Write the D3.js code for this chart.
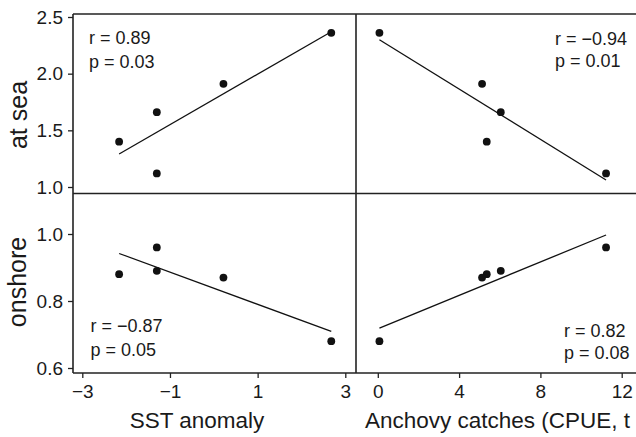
<!DOCTYPE html>
<meta charset="utf-8">
<style>
    body {
        margin: 0;
        overflow: hidden;
        background: #fff;
    }
    svg {
        font-family: "Liberation Sans", Arial, Helvetica, sans-serif;
        display: block;
    }
    .axis path {
        display: none;
    }
    .axis line {
        stroke: #222;
        stroke-width: 1.3;
    }
    .axis text {
        font-size: 19px;
        fill: #1a1a1a;
    }
    .frame line {
        stroke: #222;
        stroke-width: 1.6;
    }
    .fit {
        stroke: #111;
        stroke-width: 1.3;
        fill: none;
    }
    .dot {
        fill: #111;
    }
    .stat {
        font-size: 18px;
        fill: #1a1a1a;
    }
    .title {
        fill: #1a1a1a;
    }
</style>
<body>
<script src="https://cdn.jsdelivr.net/npm/d3@7"></script>
<script>
    // one entry per year (same order in every array)
    const sstAnomaly = [-2.16, -1.30, -1.30, 0.22, 2.68];
    const cpue = [5.36, 6.05, 11.23, 5.13, 0.08];
    const atSea = [1.40, 1.66, 1.12, 1.91, 2.36];
    const onshore = [0.88, 0.89, 0.96, 0.87, 0.68];

    const sstTicks = [-3, -1, 1, 3];
    const cpueTicks = [0, 4, 8, 12];
    const atSeaTicks = [1.0, 1.5, 2.0, 2.5];
    const onshoreTicks = [0.6, 0.8, 1.0];

    const rLabels = ["r = 0.89", "r = \u22120.94", "r = \u22120.87", "r = 0.82"];
    const pLabels = ["p = 0.03", "p = 0.01", "p = 0.05", "p = 0.08"];

    const width = 636, height = 437;

    // panel frame
    const fLeft = 73, fMid = 356, fRight = 700;
    const fTop = 14, fHmid = 193.5, fBottom = 373;

    const svg = d3.select('body').append('svg')
        .attr('width', width)
        .attr('height', height);

    const xSst = d3.scaleLinear().domain([-3, 3]).range([82.3, 345.3]);
    const xCpue = d3.scaleLinear().domain([0, 12]).range([377.8, 621.7]);
    const ySea = d3.scaleLinear().domain([1.0, 2.5]).range([187, 17]);
    const yShore = d3.scaleLinear().domain([0.6, 1.0]).range([368, 234]);

    // panels: x values, y values, scales, stat label position
    const panels = [
        {xs: sstAnomaly, ys: atSea, x: xSst, y: ySea, lx: 89, ly: [43.5, 67.5]},
        {xs: cpue, ys: atSea, x: xCpue, y: ySea, lx: 555, ly: [45, 67]},
        {xs: sstAnomaly, ys: onshore, x: xSst, y: yShore, lx: 90.5, ly: [332, 356]},
        {xs: cpue, ys: onshore, x: xCpue, y: yShore, lx: 564, ly: [337, 358.5]}
    ];

    // frame lines
    const frame = svg.append('g').attr('class', 'frame');
    [[fLeft, fTop, fRight, fTop], [fLeft, fHmid, fRight, fHmid], [fLeft, fBottom, fRight, fBottom],
     [fLeft, fTop, fLeft, fBottom], [fMid, fTop, fMid, fBottom]].forEach(l => {
        frame.append('line')
            .attr('x1', l[0]).attr('y1', l[1])
            .attr('x2', l[2]).attr('y2', l[3]);
    });

    // y axes
    svg.append('g')
        .attr('class', 'axis')
        .attr('transform', `translate(${fLeft},0)`)
        .call(d3.axisLeft(ySea).tickValues(atSeaTicks).tickSize(5).tickPadding(5)
            .tickFormat(d3.format('.1f')));

    svg.append('g')
        .attr('class', 'axis')
        .attr('transform', `translate(${fLeft},0)`)
        .call(d3.axisLeft(yShore).tickValues(onshoreTicks).tickSize(5).tickPadding(5)
            .tickFormat(d3.format('.1f')));

    // x axes
    const minus = d => d3.format('d')(d).replace('-', '\u2212');
    svg.append('g')
        .attr('class', 'axis')
        .attr('transform', `translate(0,${fBottom})`)
        .call(d3.axisBottom(xSst).tickValues(sstTicks).tickSize(5).tickPadding(7).tickFormat(minus));

    svg.append('g')
        .attr('class', 'axis')
        .attr('transform', `translate(0,${fBottom})`)
        .call(d3.axisBottom(xCpue).tickValues(cpueTicks).tickSize(5).tickPadding(7).tickFormat(minus));

    // least squares fit, drawn over the range of the data
    function fit(xs, ys) {
        const mx = d3.mean(xs), my = d3.mean(ys);
        const sxy = d3.sum(xs, (v, i) => (v - mx) * (ys[i] - my));
        const sxx = d3.sum(xs, v => (v - mx) * (v - mx));
        const b = sxy / sxx;
        const [x0, x1] = d3.extent(xs);
        return [[x0, my + b * (x0 - mx)], [x1, my + b * (x1 - mx)]];
    }

    panels.forEach((p, k) => {
        const g = svg.append('g');
        const seg = fit(p.xs, p.ys);

        g.append('path')
            .attr('class', 'fit')
            .attr('d', d3.line().x(d => p.x(d[0])).y(d => p.y(d[1]))(seg));

        g.selectAll('.dot')
            .data(p.xs.map((v, i) => [v, p.ys[i]]))
            .enter().append('circle')
            .attr('class', 'dot')
            .attr('r', 3.9)
            .attr('cx', d => p.x(d[0]))
            .attr('cy', d => p.y(d[1]));

        g.append('text')
            .attr('class', 'stat')
            .attr('x', p.lx)
            .attr('y', p.ly[0])
            .text(rLabels[k]);
        g.append('text')
            .attr('class', 'stat')
            .attr('x', p.lx)
            .attr('y', p.ly[1])
            .text(pLabels[k]);
    });

    // axis titles
    svg.append('text')
        .attr('class', 'title')
        .attr('x', 197)
        .attr('y', 428)
        .attr('text-anchor', 'middle')
        .style('font-size', '22.5px')
        .text('SST anomaly');

    svg.append('text')
        .attr('class', 'title')
        .attr('x', 365)
        .attr('y', 428)
        .style('font-size', '22.5px')
        .text('Anchovy catches (CPUE, t per trip)');

    svg.append('text')
        .attr('class', 'title')
        .attr('transform', 'translate(27,115) rotate(-90)')
        .attr('text-anchor', 'middle')
        .style('font-size', '25px')
        .text('at sea');

    svg.append('text')
        .attr('class', 'title')
        .attr('transform', 'translate(26,282) rotate(-90)')
        .attr('text-anchor', 'middle')
        .style('font-size', '25px')
        .text('onshore');
</script>
</body>
</html>
